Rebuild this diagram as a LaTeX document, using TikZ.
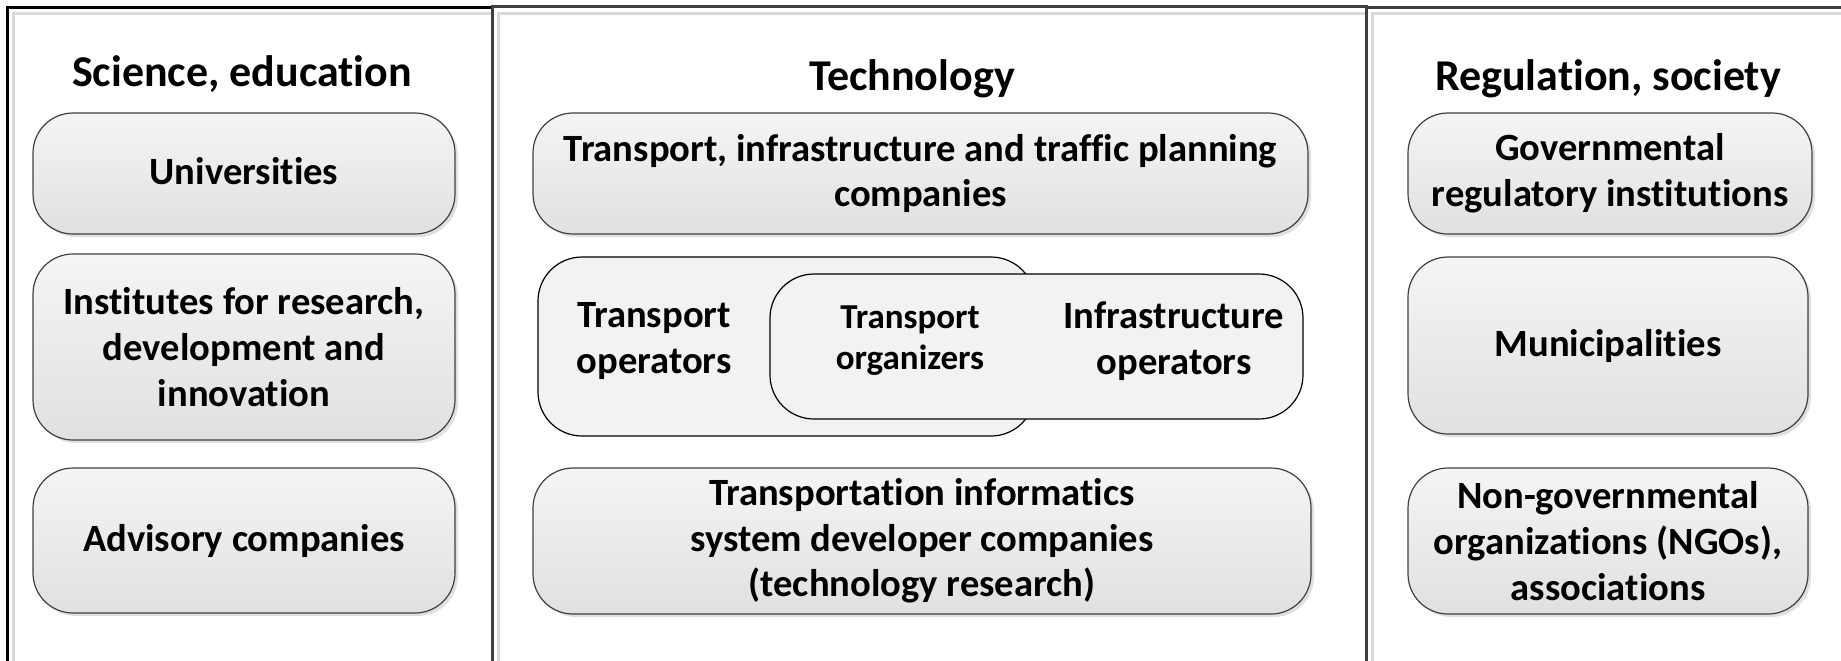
\documentclass[tikz,border=0pt]{standalone}
\usepackage{fontspec}
\setmainfont{Carlito}[Ligatures=NoCommon]
\usetikzlibrary{positioning,shadows}
\definecolor{framegray}{HTML}{3F3F3F}
\definecolor{boxline}{HTML}{404040}
\tikzset{
    panel/.style={draw=framegray,line width=1.5pt},
    panelshade/.style={draw=black!15,line width=1.5pt},
    title/.style={font=\fontsize{22}{26}\selectfont\bfseries,anchor=base},
    group/.style={rounded corners=20pt,draw=boxline,line width=0.6pt,
        top color=black!4,bottom color=black!12,
        drop shadow={shadow xshift=1.5pt,shadow yshift=-1.5pt,fill=black,opacity=0.12},
        align=center,inner sep=0pt,font=\fontsize{19.3}{22.8}\selectfont\bfseries},
    actor/.style={rounded corners=22pt,draw=black,line width=0.6pt,fill=black!5},
    actortext/.style={align=center,font=\fontsize{19.3}{22.8}\selectfont\bfseries},
}
\begin{document}
\begin{tikzpicture}[x=0.5pt,y=-0.5pt]
\useasboundingbox (0,0) rectangle (1841,660);
\clip (0,0) rectangle (1841,660);
% column frames
\foreach \l/\r in {7/492,492/1366,1366/1900}
    \draw[panelshade] (\l+6,700) -- (\l+6,13) -- (\r,13);
\draw[panel,draw=black] (7,7) rectangle (492,700);
\draw[panel] (492,6) rectangle (1366,700);
\draw[panel] (1366,7) rectangle (1900,700);

% column titles
\node[title] (sci)  at (242,86) {Science, education};
\node[title] (tech) at (912,90) {Technology};
\node[title] (reg)  at (1608,90) {Regulation, society};

% science, education
\node[group,minimum width=211pt,minimum height=60.5pt,text depth=3pt] (uni)  at (244,173.5) {Universities};
\node[group,minimum width=211pt,minimum height=93pt]   (inst) at (244,347) {Institutes for research,\\development and\\innovation};
\node[group,minimum width=211pt,minimum height=72.5pt,text depth=3pt] (adv)  at (244,540.5) {Advisory companies};

% technology
\node[group,minimum width=387.5pt,minimum height=60.5pt] (plan) at (920.5,173.5) {Transport, infrastructure and traffic planning\\companies};
\node[actor,minimum width=248.5pt,minimum height=89.5pt] (oper) at (786.5,346.5) {};
\node[actor,minimum width=266.5pt,minimum height=72.5pt] (orgz) at (1036.5,346.5) {};
\node[actortext] (operText) at (654,341) {Transport\\operators};
\node[actortext,font=\fontsize{17.5}{20.5}\selectfont\bfseries] (orgzText) at (910,341) {Transport\\organizers};
\node[actortext] (infraText) at (1174,341) {Infrastructure\\operators};
\node[group,minimum width=389pt,minimum height=73pt] (info) at (922,541) {Transportation informatics\\system developer companies\\(technology research)};

% regulation, society
\node[group,minimum width=202pt,minimum height=60.5pt] (gov) at (1610,173.5) {Governmental\\regulatory institutions};
\node[group,minimum width=200pt,minimum height=88.5pt,text depth=3pt] (mun) at (1608,345.5) {Municipalities};
\node[group,minimum width=200pt,minimum height=73pt]   (ngo) at (1608,541) {Non-governmental\\organizations (NGOs),\\associations};
\end{tikzpicture}
\end{document}
